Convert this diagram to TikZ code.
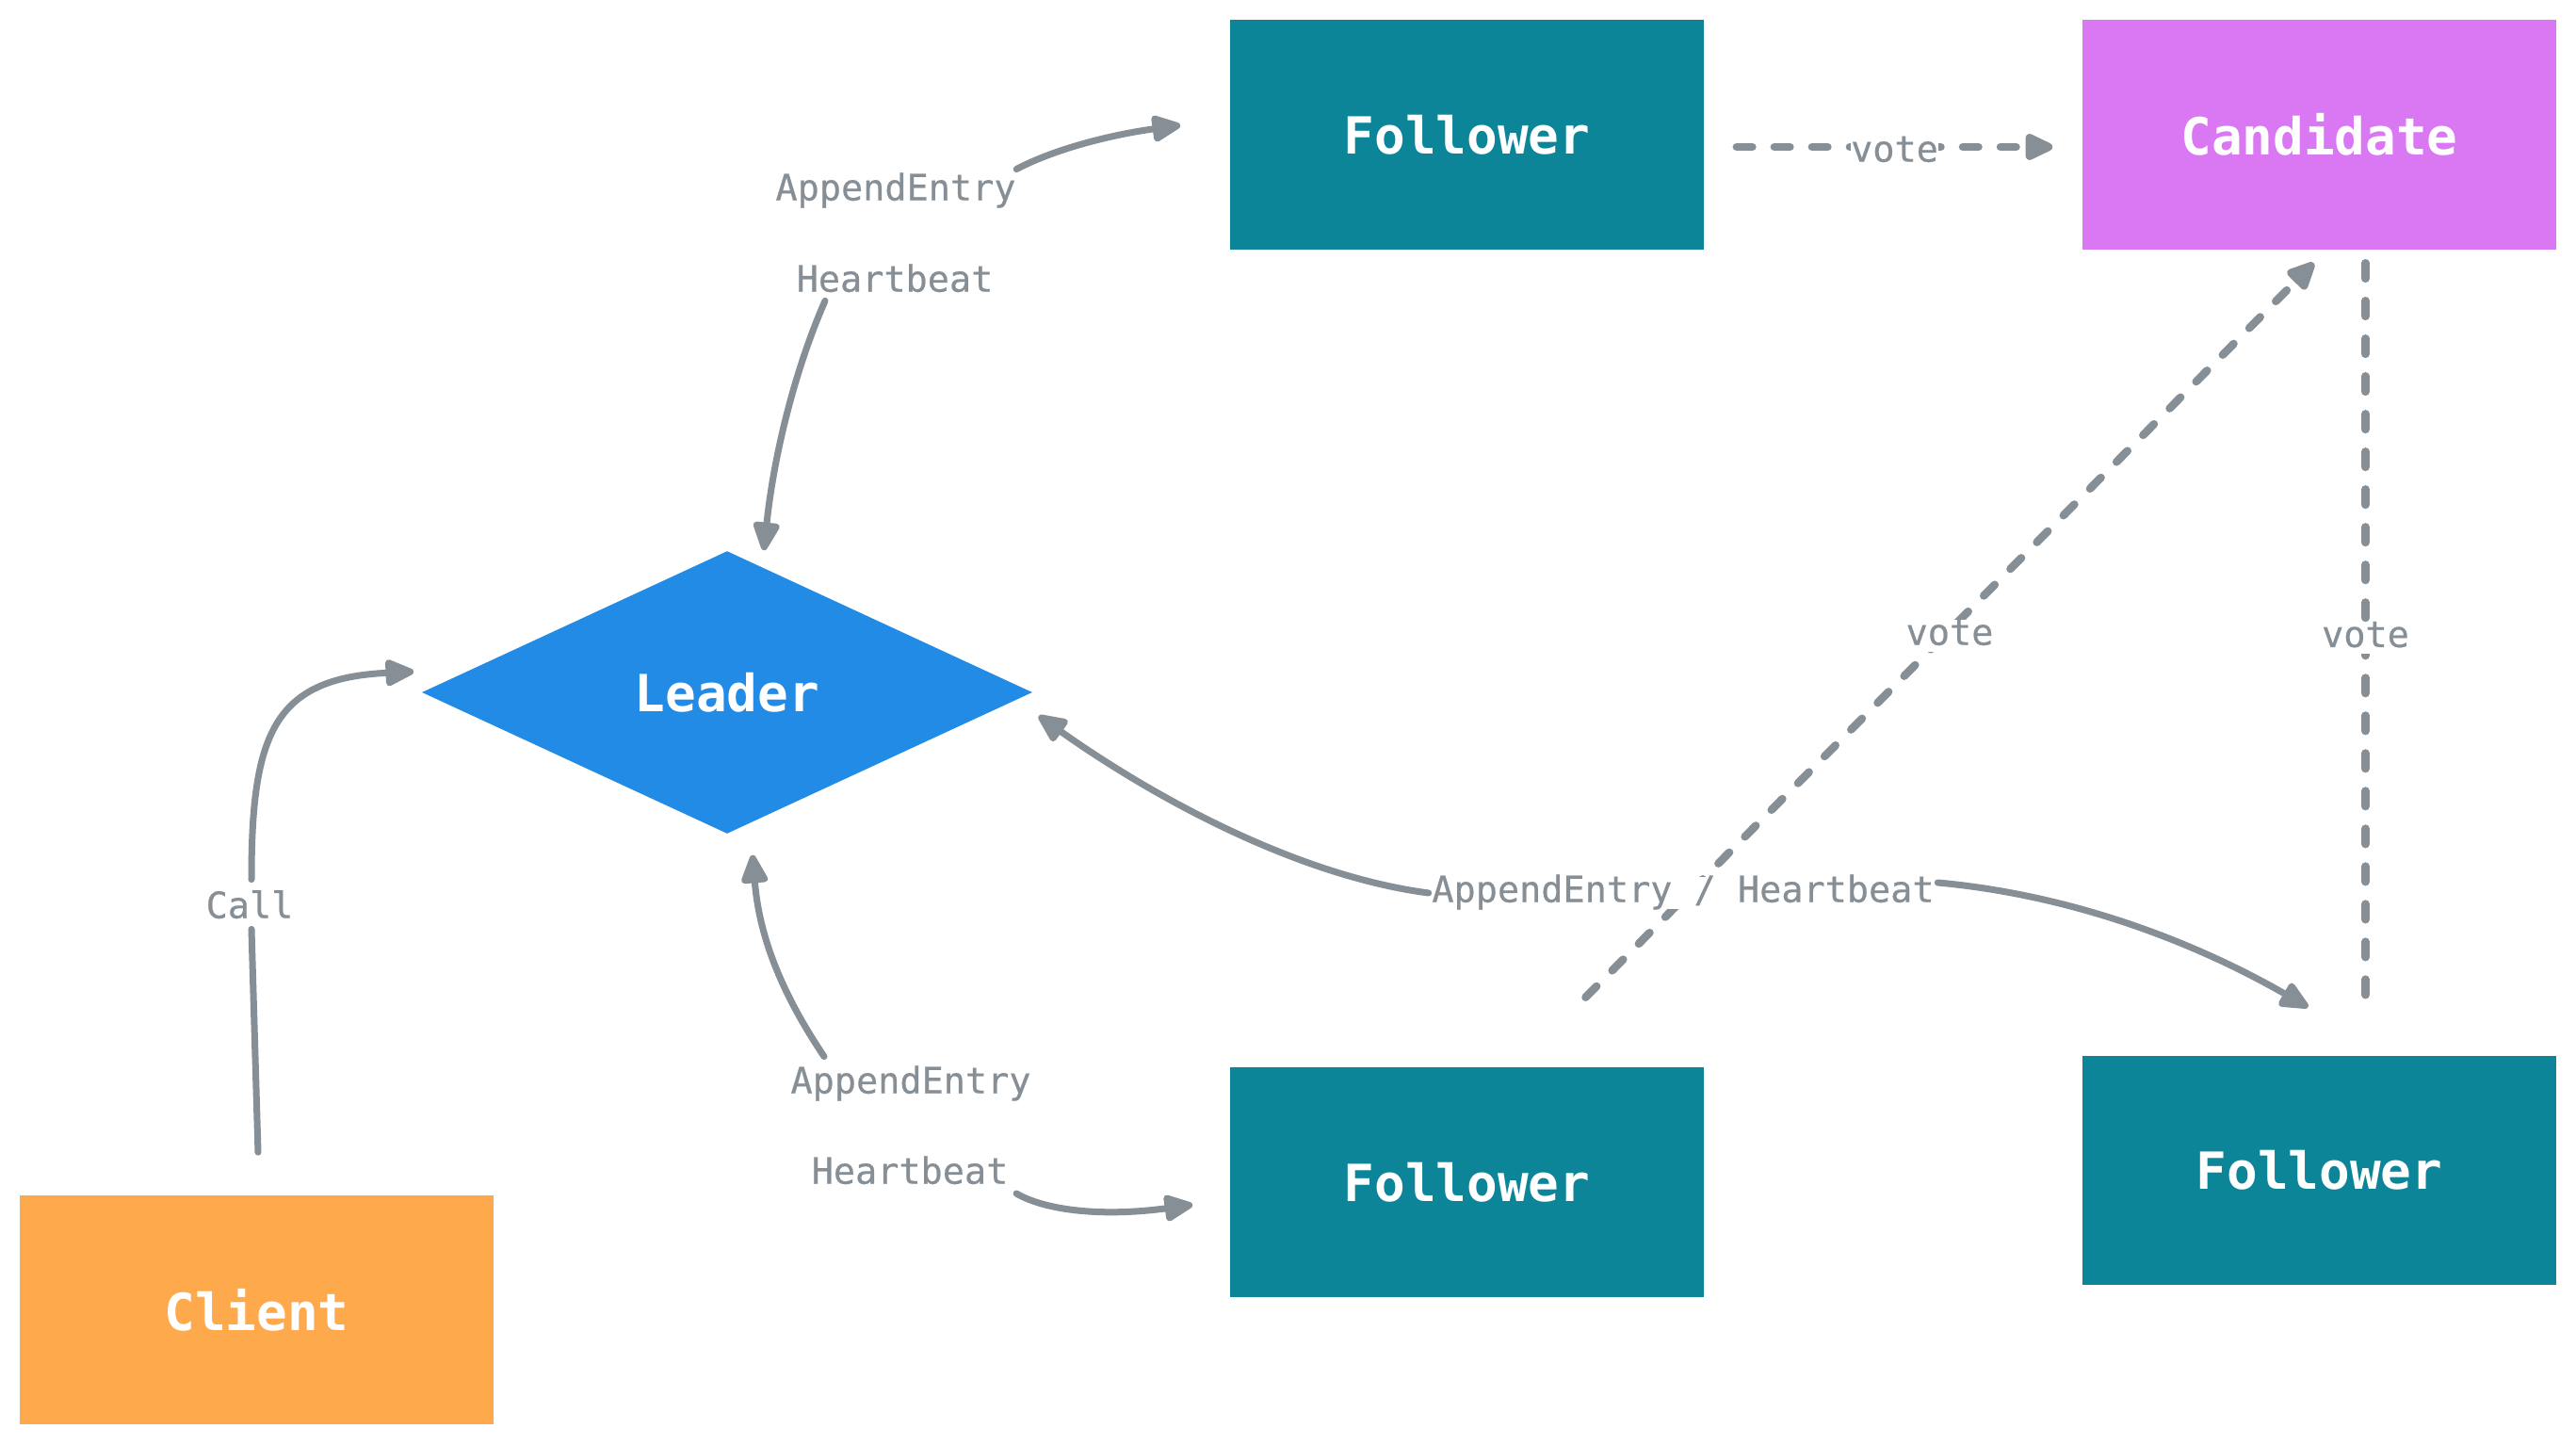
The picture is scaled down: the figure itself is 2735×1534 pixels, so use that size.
\documentclass[tikz,border=0pt]{standalone}
\usepackage{fontspec}
\newfontfamily\monofont{DejaVu Sans Mono}
\newfontfamily\labelfont{DejaVu Sans Mono}[FakeBold=0.5]
\usetikzlibrary{arrows.meta,shapes.geometric,calc}
\definecolor{folc}{HTML}{0C8599}
\definecolor{candc}{HTML}{DA77F2}
\definecolor{leadc}{HTML}{228BE6}
\definecolor{clic}{HTML}{FFA94D}
\definecolor{edgec}{HTML}{868E96}
\begin{document}
\begin{tikzpicture}[x=0.01cm,y=-0.01cm,
  box/.style={rectangle, minimum width=5.03cm, minimum height=2.43cm, inner sep=0, text=white,
    font=\monofont\bfseries\fontsize{15.45}{18}\selectfont},
  lbl/.style={inner sep=0, text=edgec, font=\labelfont\fontsize{10.95}{13}\selectfont,
    text height=0.75em, text depth=0.2em},
  tip/.style={-{Triangle[length=0.35cm,width=0.3cm,round]}},
  plainline/.style={draw=edgec, line width=0.07cm, line cap=round},
  conn/.style={plainline, tip},
  voteline/.style={draw=edgec, line width=0.085cm, line cap=round, dash pattern=on 0.165cm off 0.235cm},
  votetip/.style={voteline, tip},
  votelbl/.style={lbl, fill=white, yshift=-0.06cm},
]
\fill[white] (0,0) rectangle (2735,1534);
\useasboundingbox (0,0) rectangle (2735,1534);

% boxes
\node[box, fill=folc] (fTop) at (1557.5,143) {Follower};
\node[box, fill=candc] (cand) at (2462.5,143) {Candidate};
\node[diamond, fill=leadc, minimum width=6.48cm, minimum height=3cm, inner sep=0, text=white,
  font=\monofont\bfseries\fontsize{15.45}{18}\selectfont] (leader) at (772,735) {Leader};
\node[box, fill=clic] (client) at (272.5,1390.5) {Client};
\node[box, fill=folc] (fMid) at (1557.5,1255) {Follower};
\node[box, fill=folc] (fRight) at (2462.5,1242.5) {Follower};

% vote connectors
\coordinate (v1s) at ($(fTop.east)+(34,13)$);
\coordinate (v1e) at ($(cand.west)+(-31,13)$);
\coordinate (v2s) at ($(fMid.north)+(126,-74)$);
\coordinate (v2e) at ($(cand.south)+(-6,14)$);
\coordinate (v3s) at ($(cand.south)+(49,14)$);
\coordinate (v3e) at ($(fRight.north)+(49,-57)$);
\draw[votetip] (v1s) -- node[votelbl] (vl1) {vote} (v1e);
\draw[votetip] (v2s) -- node[votelbl] (vl2) {vote} (v2e);
\draw[voteline] (v3s) -- node[votelbl] (vl3) {vote} (v3e);

% labels
\node[lbl] (ae1) at (951,203) {AppendEntry};
\node[lbl] (hb1) at (950,300) {Heartbeat};
\node[lbl] (ae2) at (967,1151) {AppendEntry};
\node[lbl] (hb2) at (966,1247) {Heartbeat};
\node[lbl, fill=white] (ae3) at (1787,948) {AppendEntry / Heartbeat};
\node[lbl] (call) at (265,965) {Call};

% Leader <-> top Follower
\draw[conn] ($(ae1.north east)+(0,-6)$) .. controls (1120,158) and (1180,143) .. ($(fTop.west)+(-52,-10)$);
\draw[conn] ($(hb1.south)+(-74,2)$) .. controls (845,390) and (822,480) .. ($(leader.north)+(39,0)$);

% Leader <-> middle Follower
\draw[conn] ($(ae2.north)+(-92,-12)$) .. controls (820,1040) and (805,980) .. ($(leader.south)+(27,22)$);
\draw[conn] ($(hb2.east)+(8,20)$) .. controls (1110,1285) and (1170,1292) .. ($(fMid.west)+(-39,24)$);

% Leader <-> right Follower
\draw[conn] ($(ae3.west)+(-3,0)$) .. controls (1380,930) and (1230,850) .. ($(leader.east)+(6,25)$);
\draw[conn] ($(ae3.east)+(3,-11)$) .. controls (2200,950) and (2330,1000) .. ($(fRight.north)+(-12,-51)$);

% Client -> Leader
\draw[plainline] ($(client.north)+(1.5,-45)$) -- ($(call.south)+(2,4)$);
\draw[conn] ($(call.north)+(2,-14)$) .. controls (267,780) and (290,720) .. ($(leader.west)+(-8,-22)$);
\end{tikzpicture}
\end{document}
